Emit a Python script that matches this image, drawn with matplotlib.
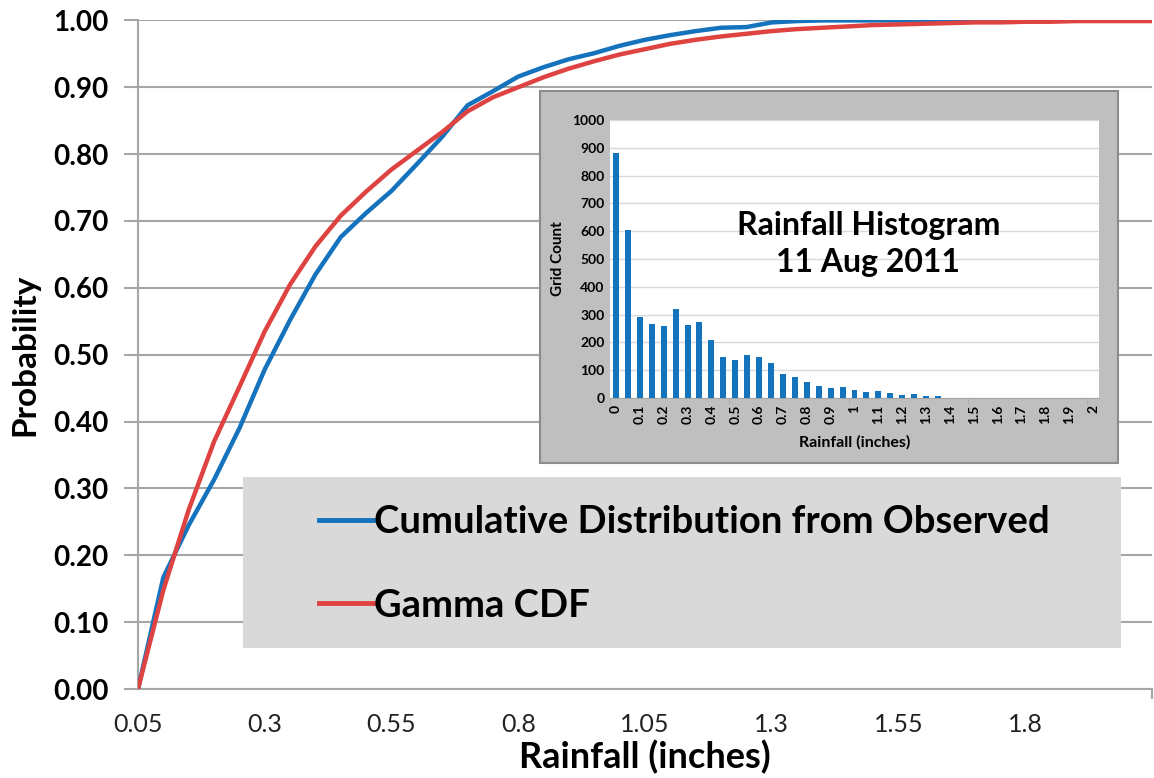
import matplotlib
matplotlib.use("Agg")
import matplotlib.pyplot as plt
from matplotlib.patches import Rectangle
from matplotlib.lines import Line2D

plt.rcParams['font.family'] = ['Lato', 'DejaVu Sans']

# main chart: rainfall categories (inches) and the two CDFs
rain = [round(0.05 + 0.05 * i, 2) for i in range(41)]
observed = [0.0, 0.167, 0.245, 0.313, 0.390, 0.478, 0.552, 0.620, 0.676, 0.712,
            0.745, 0.785, 0.826, 0.873, 0.894, 0.916, 0.930, 0.942, 0.951, 0.962,
            0.971, 0.978, 0.984, 0.989, 0.990, 0.997, 0.999, 1.0, 1.0, 1.0,
            1.0, 1.0, 1.0, 1.0, 1.0, 1.0, 1.0, 1.0, 1.0, 1.0, 1.0]
gamma = [0.0, 0.148, 0.268, 0.370, 0.452, 0.535, 0.605, 0.662, 0.708, 0.744,
         0.777, 0.805, 0.833, 0.864, 0.885, 0.900, 0.915, 0.928, 0.939, 0.949,
         0.957, 0.965, 0.971, 0.976, 0.980, 0.984, 0.987, 0.989, 0.991, 0.993,
         0.994, 0.995, 0.996, 0.997, 0.997, 0.998, 0.998, 0.999, 0.999, 0.999, 0.999]

# inset histogram
hist_bins = [round(0.05 * i, 2) for i in range(41)]
hist_counts = [883, 604, 291, 265, 259, 320, 263, 272, 208, 146,
               136, 153, 147, 125, 87, 75, 57, 44, 35, 41,
               29, 23, 24, 17, 11, 14, 8, 6, 0, 0,
               0, 0, 0, 0, 0, 0, 0, 0, 0, 0, 0]

BLUE = '#1573BD'
RED = '#DE4341'
GRID = '#A6A6A6'

fig = plt.figure(figsize=(11.54, 7.78), dpi=100)
ax = fig.add_axes([138 / 1154, 89 / 778, 1014 / 1154, 668.6 / 778])

pos = list(range(len(rain)))
ax.plot(pos, observed, color=BLUE, lw=3.2, label='Cumulative Distribution from Observed', zorder=3)
ax.plot(pos, gamma, color=RED, lw=3.2, label='Gamma CDF', zorder=3)

ax.set_xlim(0, len(rain) - 1)
ax.set_ylim(0, 1)
ax.set_yticks([i / 10 for i in range(11)])
ax.set_yticklabels(['%.2f' % (i / 10) for i in range(11)])
ax.yaxis.grid(True, color=GRID, lw=1.5)
ax.set_axisbelow(True)

lab_pos = pos[0:40:5]
ax.set_xticks(lab_pos)
ax.set_xticklabels([('%.2f' % rain[i]).rstrip('0') for i in lab_pos])
ax.set_xticks(pos[::10], minor=True)
ax.tick_params(axis='x', which='major', length=0, pad=17, labelsize=18, colors='#222222')
ax.tick_params(axis='x', which='minor', length=7, width=1.5, color=GRID)
ax.tick_params(axis='y', length=10, width=1.5, color=GRID, pad=11, labelsize=20)
for t in ax.get_yticklabels():
    t.set_fontweight('bold')

for s in ['top', 'right']:
    ax.spines[s].set_visible(False)
for s in ['left', 'bottom']:
    ax.spines[s].set_color(GRID)
    ax.spines[s].set_linewidth(1.5)

ax.set_xlabel('Rainfall (inches)', fontsize=26, fontweight='bold', labelpad=3)
ax.set_ylabel('Probability', fontsize=24, fontweight='bold', labelpad=10)

# legend box
fig.patches.append(Rectangle((243 / 1154, 1 - 648 / 778), 878 / 1154, 171 / 778,
                             transform=fig.transFigure, facecolor='#D9D9D9',
                             edgecolor='none', zorder=1))
handles = [Line2D([], [], color=BLUE, lw=3.5), Line2D([], [], color=RED, lw=3.5)]
leg = fig.legend(handles, ['Cumulative Distribution from Observed', 'Gamma CDF'],
                 loc='center left', bbox_to_anchor=(300 / 1154, 1 - 564 / 778),
                 frameon=False, handlelength=1.4, handletextpad=0.05,
                 labelspacing=1.3, borderpad=0, prop={'size': 27.5, 'weight': 'bold'})
leg.set_zorder(2)

# inset histogram panel
fig.patches.append(Rectangle((540 / 1154, 1 - 463 / 778), 578 / 1154, 372 / 778,
                             transform=fig.transFigure, facecolor='#BFBFBF',
                             edgecolor='#8C8C8C', lw=1.5, zorder=1))
axi = fig.add_axes([610 / 1154, 380 / 778, 489 / 1154, 278 / 778])
axi.set_zorder(2)
hpos = list(range(len(hist_bins)))
axi.bar(hpos, hist_counts, width=0.5, color='#1473BD', zorder=3)
axi.set_xlim(-0.5, len(hist_bins) - 0.5)
axi.set_ylim(0, 1000)
axi.set_yticks(range(0, 1001, 100))
axi.yaxis.grid(True, color='#D9D9D9', lw=1)
axi.set_axisbelow(True)
axi.set_xticks(hpos[::2])
axi.set_xticklabels([('%g' % hist_bins[i]) for i in hpos[::2]], rotation=90)
axi.set_xticks([p - 0.5 for p in hpos[::10]], minor=True)
axi.tick_params(axis='x', which='major', length=0, pad=5, labelsize=10)
axi.tick_params(axis='x', which='minor', length=4, color='#A6A6A6')
axi.tick_params(axis='y', length=0, pad=4, labelsize=10)
for t in axi.get_xticklabels() + axi.get_yticklabels():
    t.set_fontweight('bold')
for s in ['top', 'right', 'left']:
    axi.spines[s].set_visible(False)
axi.spines['bottom'].set_color('#A6A6A6')
axi.set_xlabel('Rainfall (inches)', fontsize=11.5, fontweight='bold', labelpad=8)
axi.set_ylabel('Grid Count', fontsize=11, fontweight='bold', labelpad=5)
axi.text(0.528, 0.555, 'Rainfall Histogram\n11 Aug 2011', transform=axi.transAxes,
         ha='center', va='center', fontsize=23, fontweight='bold', linespacing=1.35)

fig.savefig('out.png', dpi=100)
